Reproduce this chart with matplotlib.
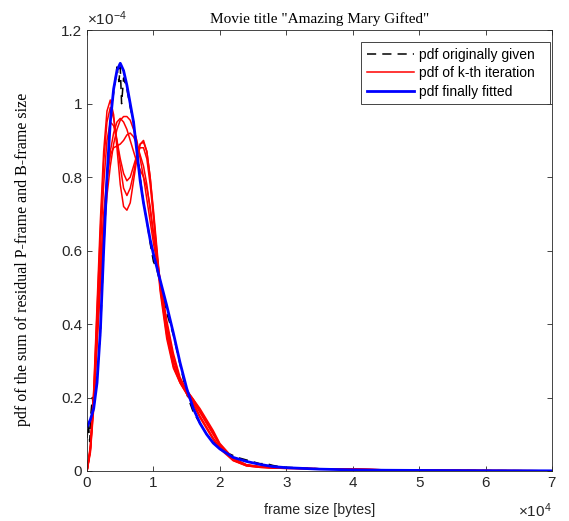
import matplotlib
matplotlib.use('Agg')
import matplotlib.pyplot as plt

plt.rcParams['font.family'] = ['Liberation Sans', 'DejaVu Sans']
plt.rcParams['mathtext.fontset'] = 'custom'
plt.rcParams['mathtext.rm'] = 'Liberation Sans'
plt.rcParams['mathtext.it'] = 'Liberation Sans:italic'

# x in units of 1e4 bytes, y in units of 1e-4
x_given = [0, 0.02, 0.04, 0.06, 0.08, 0.1, 0.15, 0.2, 0.25, 0.3, 0.35, 0.4, 0.45,
           0.48, 0.5, 0.52, 0.55, 0.6, 0.65, 0.7, 0.75, 0.8, 0.85, 0.9, 0.95, 1.0,
           1.05, 1.1, 1.2, 1.3, 1.35, 1.4, 1.5, 1.6, 1.7, 1.8, 1.9, 2.0,
           2.1, 2.2, 2.3, 2.4, 2.5, 2.6, 2.7, 2.8, 2.9, 3.0, 3.5, 4.0, 5.0, 6.0, 7.0]
pdf_given = [0.09, 0.13, 0.08, 0.16, 0.2, 0.17, 0.25, 0.37, 0.6, 0.8, 0.96, 1.03, 1.1,
             1.06, 1.1, 1.0, 1.07, 1.04, 0.99, 0.95, 0.88, 0.8, 0.73, 0.68, 0.62, 0.57,
             0.55, 0.51, 0.43, 0.37, 0.33, 0.29, 0.21, 0.16, 0.13, 0.1, 0.08, 0.062,
             0.05, 0.042, 0.035, 0.03, 0.025, 0.02, 0.02, 0.015, 0.012, 0.01, 0.006, 0.003, 0.002, 0.001, 0.0005]

x_fit = [0, 0.05, 0.1, 0.15, 0.2, 0.25, 0.3, 0.35, 0.4, 0.45, 0.5, 0.55, 0.6, 0.65,
         0.7, 0.75, 0.8, 0.85, 0.9, 0.95, 1.0, 1.1, 1.2, 1.3, 1.4, 1.5, 1.6, 1.7,
         1.8, 1.9, 2.0, 2.2, 2.4, 2.6, 2.8, 3.0, 3.5, 4.0, 4.5, 5.0, 6.0, 7.0]
pdf_fit = [0.12, 0.14, 0.17, 0.24, 0.38, 0.6, 0.8, 0.95, 1.04, 1.09, 1.11, 1.09, 1.05, 1.0,
           0.95, 0.87, 0.79, 0.73, 0.68, 0.63, 0.59, 0.52, 0.45, 0.375, 0.295, 0.225, 0.17, 0.13,
           0.1, 0.076, 0.06, 0.037, 0.026, 0.018, 0.012, 0.009, 0.005, 0.003, 0.002, 0.0015, 0.0008, 0.0004]

x_iter = [0, 0.05, 0.1, 0.15, 0.2, 0.25, 0.3, 0.35, 0.4, 0.45, 0.5, 0.55, 0.6, 0.65,
          0.7, 0.75, 0.8, 0.85, 0.9, 0.95, 1.0, 1.05, 1.1,
          1.2, 1.3, 1.4, 1.5, 1.6, 1.7, 1.8, 1.9, 2.0, 2.2, 2.4, 2.6, 2.8, 3.0,
          3.5, 4.0, 4.5, 5.0, 6.0, 7.0]
iter_1 = [0, 0.07, 0.22, 0.45, 0.68, 0.87, 0.98, 1.01, 0.97, 0.88, 0.78, 0.72, 0.71, 0.73,
          0.79, 0.85, 0.89, 0.9, 0.87, 0.8, 0.71, 0.61, 0.51,
          0.38, 0.29, 0.245, 0.215, 0.19, 0.16, 0.13, 0.1, 0.07, 0.03, 0.016, 0.011, 0.009, 0.008,
          0.006, 0.005, 0.003, 0.002, 0.001, 0.0005]
iter_2 = [0, 0.06, 0.2, 0.4, 0.6, 0.78, 0.9, 0.95, 0.94, 0.9, 0.85, 0.81, 0.79, 0.8,
          0.83, 0.86, 0.88, 0.88, 0.85, 0.78, 0.69, 0.59, 0.49,
          0.36, 0.28, 0.24, 0.21, 0.18, 0.145, 0.115, 0.085, 0.06, 0.028, 0.014, 0.01, 0.008, 0.007,
          0.006, 0.004, 0.003, 0.002, 0.001, 0.0005]
iter_3 = [0, 0.05, 0.17, 0.34, 0.5, 0.64, 0.75, 0.83, 0.89, 0.93, 0.955, 0.965, 0.965, 0.955,
          0.93, 0.9, 0.85, 0.8, 0.74, 0.68, 0.62, 0.57, 0.52,
          0.41, 0.32, 0.255, 0.22, 0.195, 0.17, 0.14, 0.11, 0.075, 0.035, 0.017, 0.012, 0.01, 0.008,
          0.006, 0.005, 0.003, 0.002, 0.001, 0.0005]
iter_4 = [0, 0.06, 0.19, 0.37, 0.55, 0.7, 0.8, 0.86, 0.88, 0.885, 0.89, 0.9, 0.915, 0.92,
          0.91, 0.89, 0.86, 0.83, 0.78, 0.71, 0.64, 0.58, 0.51,
          0.39, 0.3, 0.25, 0.215, 0.19, 0.16, 0.13, 0.1, 0.07, 0.03, 0.016, 0.011, 0.009, 0.008,
          0.006, 0.005, 0.003, 0.002, 0.001, 0.0005]
iter_5 = [0, 0.065, 0.21, 0.43, 0.65, 0.84, 0.95, 0.99, 0.96, 0.9, 0.83, 0.77, 0.75, 0.77,
          0.81, 0.86, 0.89, 0.895, 0.87, 0.8, 0.7, 0.6, 0.5,
          0.37, 0.285, 0.24, 0.21, 0.185, 0.15, 0.12, 0.09, 0.065, 0.029, 0.014, 0.01, 0.008, 0.007,
          0.006, 0.004, 0.003, 0.002, 0.001, 0.0005]
iter_6 = [0, 0.055, 0.18, 0.36, 0.53, 0.68, 0.79, 0.87, 0.92, 0.95, 0.96, 0.95, 0.93, 0.9,
          0.87, 0.84, 0.82, 0.8, 0.77, 0.72, 0.65, 0.59, 0.52,
          0.4, 0.31, 0.25, 0.22, 0.195, 0.165, 0.135, 0.105, 0.073, 0.033, 0.017, 0.012, 0.01, 0.008,
          0.006, 0.005, 0.003, 0.002, 0.001, 0.0005]
iterations = [iter_1, iter_2, iter_3, iter_4, iter_5, iter_6]

x_ticks = [0, 1, 2, 3, 4, 5, 6, 7]
y_ticks = [0, 0.2, 0.4, 0.6, 0.8, 1.0, 1.2]

fig = plt.figure(figsize=(5.69, 5.21), dpi=100)
ax = fig.add_axes([0.153, 0.096, 0.817, 0.846])

ax.plot(x_given, pdf_given, color='black', linestyle=(0, (6, 4)), linewidth=1.1,
        label='pdf originally given')
for i, it in enumerate(iterations):
    ax.plot(x_iter, it, color='#ff0000', linewidth=1.1,
            label='pdf of k-th iteration' if i == 0 else None)
ax.plot(x_fit, pdf_fit, color='#0000ff', linewidth=2.0, label='pdf finally fitted')

ax.set_xlim(0, 7)
ax.set_ylim(0, 1.2)
ax.set_xticks(x_ticks)
ax.set_yticks(y_ticks)
ax.set_xticklabels(['%g' % t for t in x_ticks])
ax.set_yticklabels(['%g' % t for t in y_ticks])
ax.tick_params(direction='in', top=True, right=True, length=3.6, width=0.6,
               labelsize=11, colors='#262626')
for s in ax.spines.values():
    s.set_linewidth(0.6)
    s.set_color('#262626')

# MATLAB style exponent labels
ax.text(0, 1.006, r'$\times10^{-4}$', transform=ax.transAxes, ha='left', va='bottom',
        fontsize=11, color='#262626')
fig.text(552 / 569, 1 / 521, r'$\times10^{4}$', ha='right', va='bottom',
         fontsize=11, color='#262626')

ax.set_title('Movie title "Amazing Mary Gifted"', family='Liberation Serif', fontsize=11, pad=5)
ax.set_xlabel('frame size [bytes]', fontsize=10.2, color='#262626')
ax.xaxis.set_label_coords(0.5, -0.072)
fig.text(23 / 569, 1 - 259 / 521, 'pdf of the sum of residual P-frame and B-frame size',
         family='Liberation Serif', fontsize=11.5, rotation=90, ha='center', va='center')

leg = ax.legend(loc='upper left', bbox_to_anchor=(0.5892, 0.9728, 0.4065, 0), mode='expand',
                borderaxespad=0, fontsize=10, handlelength=3.45, fancybox=False,
                edgecolor='#262626', framealpha=1, borderpad=0.4, labelspacing=0.33,
                handletextpad=0.36)
leg.get_frame().set_linewidth(0.6)

fig.savefig('out.png', dpi=100)
